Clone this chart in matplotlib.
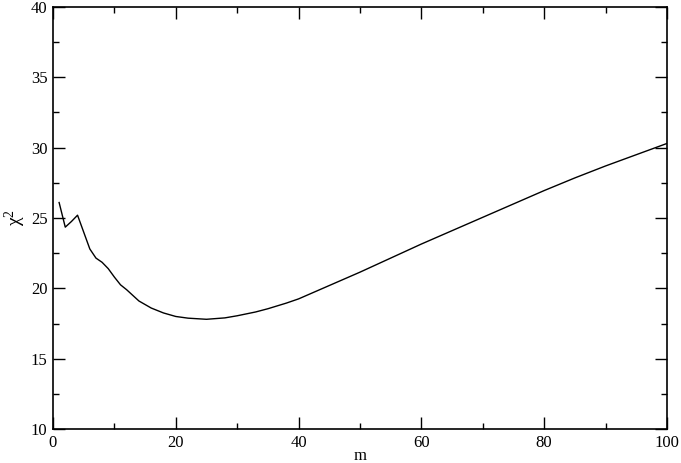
import numpy as np
import matplotlib
matplotlib.use('Agg')
import matplotlib.pyplot as plt
from matplotlib.ticker import MultipleLocator

# chi^2 values
m = [1, 2, 3, 4, 5, 6, 7, 8, 9, 10, 11, 12, 14, 16, 18, 20, 22, 25, 28, 30,
     33, 35, 38, 40, 45, 50, 55, 60, 65, 70, 75, 80, 85, 90, 95, 100]
chi2 = [26.1, 24.35, 24.75, 25.2, 24.0, 22.8, 22.15, 21.85, 21.4, 20.8, 20.25, 19.9,
        19.1, 18.6, 18.25, 18.0, 17.88, 17.8, 17.9, 18.05,
        18.32, 18.55, 18.95, 19.25, 20.2, 21.15, 22.15, 23.15, 24.1, 25.05, 26.0,
        26.95, 27.85, 28.7, 29.5, 30.3]

plt.rcParams['font.family'] = ['Liberation Serif', 'DejaVu Serif']
plt.rcParams['mathtext.default'] = 'regular'

fig = plt.figure(figsize=(6.81, 4.63), dpi=100)
ax = fig.add_axes([0.0778, 0.0734, 0.9016, 0.9115])
ax.plot(m, chi2, color='black', linewidth=1.0)

ax.set_xlim(0, 100)
ax.set_ylim(10, 40)
ax.xaxis.set_major_locator(MultipleLocator(20))
ax.xaxis.set_minor_locator(MultipleLocator(10))
ax.yaxis.set_major_locator(MultipleLocator(5))
ax.yaxis.set_minor_locator(MultipleLocator(2.5))
ax.tick_params(which='both', direction='in', top=True, right=True, labelsize=12, width=1.0)
ax.tick_params(which='major', length=8.5)
ax.tick_params(which='minor', length=4.5)
ax.tick_params(axis='x', pad=4)
ax.tick_params(axis='y', pad=4)
for s in ax.spines.values():
    s.set_linewidth(1.2)

ax.set_xlabel('m', fontsize=12, labelpad=-2)
ax.set_ylabel(r'$\chi^2$', fontsize=14, labelpad=2)

fig.savefig('out.png', dpi=100)
